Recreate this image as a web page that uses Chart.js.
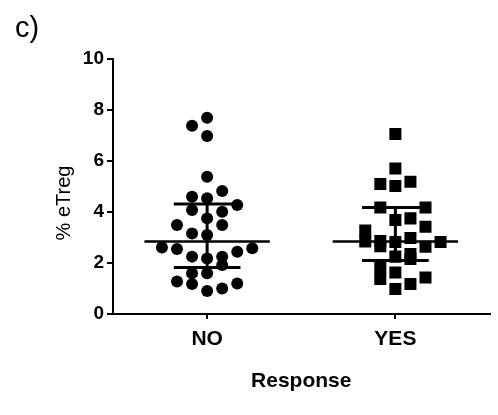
<!DOCTYPE html>
<html>
<head>
<meta charset="utf-8">
<script src="https://cdn.jsdelivr.net/npm/chart.js@4.4.1/dist/chart.umd.min.js"></script>
<style>
  html, body { margin: 0; padding: 0; background: #fff; }
  #wrap { width: 498px; height: 415px; }
</style>
</head>
<body>
<div id="wrap"><canvas id="c" width="498" height="415"></canvas></div>
<script>
// Groups on the x axis
const categories = ['NO', 'YES'];

// % eTreg per patient, non-responders
const noValues = [7.70, 7.38, 6.98, 5.38, 4.82, 4.60, 4.54, 4.27, 4.08, 4.01,
                  3.75, 3.49, 3.49, 3.16, 3.10, 2.61, 2.55, 2.58, 2.44, 2.25,
                  2.18, 2.25, 1.92, 1.60, 1.60, 1.27, 1.18, 1.20, 1.00, 0.90];
// scatter lane of each point (stacked columns around the group centre)
const noLane   = [0, -1, 0, 0, 1, -1, 0, 2, -1, 1,
                  0, -2, 1, -1, 0, -3, -2, 3, 2, -1,
                  0, 1, 1, -1, 0, -2, -1, 2, 1, 0];

// % eTreg per patient, responders
const yesValues = [7.06, 5.71, 5.10, 5.02, 5.19, 4.18, 4.18, 3.69, 3.75, 3.42,
                   3.27, 2.84, 2.86, 2.66, 2.82, 2.98, 2.64, 2.82, 2.25, 2.35,
                   2.16, 1.82, 1.37, 1.63, 1.43, 1.18, 0.98];
const yesLane   = [0, 0, -1, 0, 1, -1, 2, 0, 1, 2,
                   -2, -2, -1, -1, 0, 1, 2, 3, 0, 1,
                   1, -1, -1, 0, 2, 1, 0];

// median with interquartile range per group
const medians = [2.84, 2.84];
const q1s     = [1.82, 2.10];
const q3s     = [4.31, 4.18];

// y axis ticks
const yTicks = [0, 2, 4, 6, 8, 10];

const LANE_STEP = 0.08;   // horizontal spacing of scatter lanes (x units)
const MEDIAN_HALF = 0.333;
const CAP_HALF = 0.177;
const FONT = '"Liberation Sans", Arial, sans-serif';

const centre = i => i + 0.5;
const toPoints = (vals, lanes, gi) => vals.map((v, k) => ({ x: centre(gi) + lanes[k] * LANE_STEP, y: v }));

function segment(x0, x1, y0, y1) { return [{ x: x0, y: y0 }, { x: x1, y: y1 }]; }

const lineDatasets = [];
categories.forEach((c, i) => {
  const cx = centre(i);
  lineDatasets.push({ type: 'line', data: segment(cx - MEDIAN_HALF, cx + MEDIAN_HALF, medians[i], medians[i]), borderColor: '#000', borderWidth: 2.5, pointRadius: 0 });
  lineDatasets.push({ type: 'line', data: segment(cx - CAP_HALF, cx + CAP_HALF, q1s[i], q1s[i]), borderColor: '#000', borderWidth: 3, pointRadius: 0 });
  lineDatasets.push({ type: 'line', data: segment(cx - CAP_HALF, cx + CAP_HALF, q3s[i], q3s[i]), borderColor: '#000', borderWidth: 3, pointRadius: 0 });
  lineDatasets.push({ type: 'line', data: segment(cx, cx, q1s[i], q3s[i]), borderColor: '#000', borderWidth: 3, pointRadius: 0 });
});

// panel letter and rotated y title
const annotations = {
  id: 'annotations',
  afterDraw(chart) {
    const ctx = chart.ctx;
    ctx.save();
    ctx.fillStyle = '#000';
    ctx.font = '29px ' + FONT;
    ctx.textBaseline = 'alphabetic';
    ctx.textAlign = 'left';
    ctx.fillText('c)', 15, 37);

    ctx.font = '20px ' + FONT;
    ctx.translate(70, 203);
    ctx.rotate(-Math.PI / 2);
    ctx.textAlign = 'center';
    ctx.textBaseline = 'alphabetic';
    ctx.fillText('% eTreg', 0, 0);
    ctx.restore();
  }
};

new Chart(document.getElementById('c'), {
  type: 'scatter',
  data: {
    datasets: [
      { data: toPoints(noValues, noLane, 0), pointStyle: 'circle', pointRadius: 6, pointHoverRadius: 6,
        backgroundColor: '#000', borderColor: '#000', borderWidth: 0 },
      { data: toPoints(yesValues, yesLane, 1), pointStyle: 'rect', pointRadius: 8.5, pointHoverRadius: 8.5,
        backgroundColor: '#000', borderColor: '#000', borderWidth: 0 },
      ...lineDatasets
    ]
  },
  options: {
    responsive: false,
    animation: false,
    events: [],
    layout: { padding: { top: 59, right: 1, left: 0, bottom: 0 } },
    plugins: { legend: { display: false }, tooltip: { enabled: false } },
    scales: {
      x: {
        type: 'linear', min: 0, max: categories.length,
        afterBuildTicks: s => { s.ticks = categories.map((c, i) => ({ value: centre(i) })); },
        afterFit: s => { s.height = 101; },
        ticks: {
          callback: (v) => categories[Math.round(v - 0.5)],
          color: '#000', font: { family: FONT, size: 21, weight: 'bold' },
          padding: 8, maxRotation: 0
        },
        grid: { display: true, drawOnChartArea: false, drawTicks: true, tickLength: 5, color: '#000', lineWidth: 2 },
        border: { display: true, color: '#000', width: 2 },
        title: { display: true, text: 'Response', color: '#000', padding: { top: 4, bottom: 21 },
                 font: { family: FONT, size: 21, weight: 'bold' } }
      },
      y: {
        min: 0, max: 10,
        afterBuildTicks: s => { s.ticks = yTicks.map(v => ({ value: v })); },
        afterFit: s => { s.width = 113; },
        ticks: {
          color: '#000', font: { family: FONT, size: 19, weight: 'bold' },
          padding: 3
        },
        grid: { display: true, drawOnChartArea: false, drawTicks: true, tickLength: 6, color: '#000', lineWidth: 2 },
        border: { display: true, color: '#000', width: 2 },
        title: { display: false }
      }
    }
  },
  plugins: [annotations]
});
</script>
</body>
</html>
